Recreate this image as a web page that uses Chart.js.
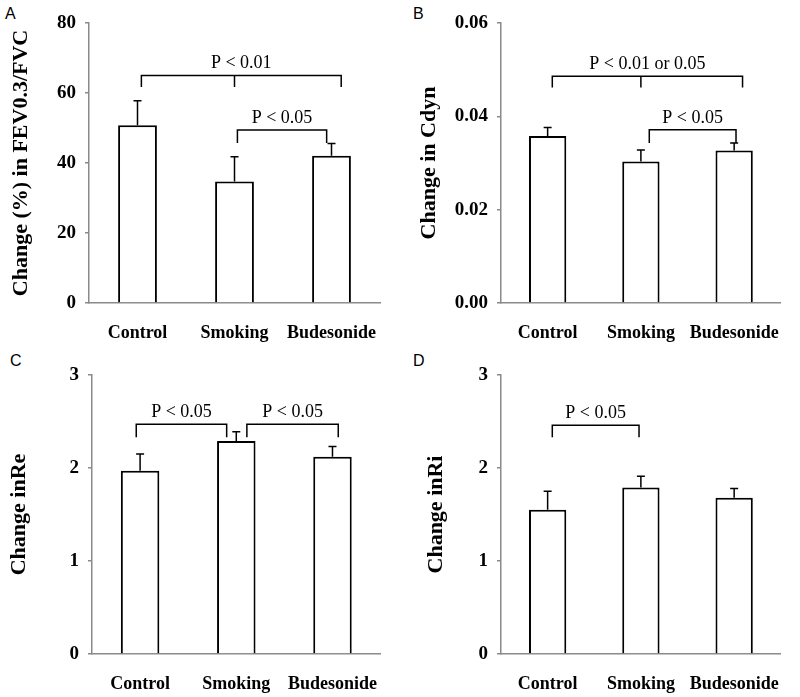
<!DOCTYPE html>
<html>
<head>
<meta charset="utf-8">
<script src="https://cdn.jsdelivr.net/npm/chart.js@4.4.0/dist/chart.umd.min.js"></script>
<style>
  body { margin: 0; background: #fff; }
  #wrap { position: relative; width: 800px; height: 697px; }
  canvas { position: absolute; }
  .tag { position: absolute; font-family: "Liberation Sans", Arial, sans-serif; font-size: 16px; color: #000; }
</style>
</head>
<body>
<div id="wrap">
  <div class="tag" style="left:5px;top:5px">A</div>
  <div class="tag" style="left:413px;top:5px">B</div>
  <div class="tag" style="left:10px;top:352px">C</div>
  <div class="tag" style="left:413px;top:352px">D</div>
  <canvas id="chartA" width="400" height="345" style="left:0;top:0"></canvas>
  <canvas id="chartB" width="400" height="345" style="left:400px;top:0"></canvas>
  <canvas id="chartC" width="400" height="352" style="left:0;top:345px"></canvas>
  <canvas id="chartD" width="400" height="352" style="left:400px;top:345px"></canvas>
</div>
<script>
// Grupos
const categories = ['Control', 'Smoking', 'Budesonide'];

// Panel A: FEV0.3/FVC
const fevMeans = [50.8, 34.7, 42.1];
const fevErrors = [7.0, 7.1, 3.5];
// Panel B: Cdyn
const cdynMeans = [0.0358, 0.0303, 0.0327];
const cdynErrors = [0.0018, 0.0025, 0.0016];
// Panel C: Re
const reMeans = [1.97, 2.29, 2.12];
const reErrors = [0.18, 0.10, 0.11];
// Panel D: Ri
const riMeans = [1.55, 1.79, 1.68];
const riErrors = [0.20, 0.12, 0.10];

// Ejes (max, paso)
const fevAxis = [80, 20];
const cdynAxis = [0.06, 0.02];
const reAxis = [3, 1];
const riAxis = [3, 1];

// Corchetes de significancia (posicion en indices de categoria y valores del eje)
const fevBrackets = [
    { from: 0.04, to: 2.1, mid: 1, level: 65, drop: 61.7, label: 'P < 0.01' },
    { from: 1.03, to: 1.95, level: 49.4, drop: 45.7, label: 'P < 0.05' }
];
const cdynBrackets = [
    { from: 0.05, to: 2.09, mid: 1, level: 0.0486, drop: 0.0462, label: 'P < 0.01 or 0.05' },
    { from: 1.09, to: 2.02, level: 0.0371, drop: 0.0343, label: 'P < 0.05' }
];
const reBrackets = [
    { from: -0.04, to: 0.9, level: 2.47, drop: 2.33, label: 'P < 0.05' },
    { from: 1.11, to: 2.06, level: 2.47, drop: 2.33, label: 'P < 0.05' }
];
const riBrackets = [
    { from: 0.05, to: 0.98, level: 2.46, drop: 2.33, label: 'P < 0.05' }
];

const serif = '"Liberation Serif", "Times New Roman", serif';
const axisGrey = '#8a8a8a';

// Plugin: barras de error y corchetes
const marcasPlugin = {
    id: 'marcas',
    afterDatasetsDraw(chart, args, opts) {
        const ctx = chart.ctx;
        const xs = chart.scales.x;
        const ys = chart.scales.y;
        ctx.save();
        ctx.strokeStyle = '#000';
        ctx.lineWidth = 1.5;

        // Barras de error (solo hacia arriba)
        opts.means.forEach((m, i) => {
            const x = xs.getPixelForValue(i);
            const y0 = ys.getPixelForValue(m);
            const y1 = ys.getPixelForValue(m + opts.errors[i]);
            ctx.beginPath();
            ctx.moveTo(x, y0);
            ctx.lineTo(x, y1);
            ctx.moveTo(x - 4, y1);
            ctx.lineTo(x + 4, y1);
            ctx.stroke();
        });

        // Corchetes
        ctx.fillStyle = '#000';
        ctx.font = '18px ' + serif;
        ctx.textAlign = 'center';
        ctx.textBaseline = 'middle';
        opts.brackets.forEach(b => {
            const x1 = xs.getPixelForValue(b.from);
            const x2 = xs.getPixelForValue(b.to);
            const yl = ys.getPixelForValue(b.level);
            const yd = ys.getPixelForValue(b.drop);
            ctx.beginPath();
            ctx.moveTo(x1, yd);
            ctx.lineTo(x1, yl);
            ctx.lineTo(x2, yl);
            ctx.lineTo(x2, yd);
            if (b.mid !== undefined) {
                const xm = xs.getPixelForValue(b.mid);
                ctx.moveTo(xm, yl);
                ctx.lineTo(xm, yd);
            }
            ctx.stroke();
            ctx.fillText(b.label, (x1 + x2) / 2, yl - 12);
        });
        ctx.restore();
    }
};

function crearPanel(id, means, errors, axis, brackets, titulo, cfg) {
    const ctx = document.getElementById(id);
    new Chart(ctx, {
        type: 'bar',
        data: {
            labels: categories,
            datasets: [{
                data: means,
                backgroundColor: '#fff',
                borderColor: '#000',
                borderWidth: 2,
                borderSkipped: 'bottom',
                barPercentage: 0.4,
                categoryPercentage: 1
            }]
        },
        options: {
            responsive: false,
            animation: false,
            devicePixelRatio: 1,
            layout: { padding: { top: cfg.top, right: cfg.right, left: 0, bottom: 0 } },
            plugins: {
                legend: { display: false },
                tooltip: { enabled: false },
                marcas: { means: means, errors: errors, brackets: brackets }
            },
            scales: {
                x: {
                    grid: { display: false, drawTicks: false },
                    border: { display: true, color: axisGrey, width: 1.5 },
                    ticks: { color: '#000', padding: 20, font: { family: serif, size: 18, weight: 'bold' } },
                    afterFit: s => { s.height = cfg.xh; }
                },
                y: {
                    min: 0,
                    max: axis[0],
                    ticks: {
                        stepSize: axis[1],
                        color: '#000',
                        padding: 9,
                        font: { family: serif, size: 19, weight: 'bold' },
                        callback: v => cfg.dec ? v.toFixed(cfg.dec) : v
                    },
                    grid: { drawOnChartArea: false, drawTicks: true, tickLength: 4, color: axisGrey, lineWidth: 1.5 },
                    border: { display: true, color: axisGrey, width: 1.5 },
                    title: {
                        display: true,
                        text: titulo,
                        color: '#000',
                        padding: { top: cfg.tp, bottom: 0 },
                        font: { family: serif, size: 22, weight: 'bold' }
                    },
                    afterFit: s => { s.width = cfg.yw; }
                }
            }
        },
        plugins: [marcasPlugin]
    });
}

crearPanel('chartA', fevMeans, fevErrors, fevAxis, fevBrackets, 'Change (%) in FEV0.3/FVC',
    { top: 23, right: 20, xh: 42, yw: 89, tp: 8 });
crearPanel('chartB', cdynMeans, cdynErrors, cdynAxis, cdynBrackets, 'Change in Cdyn',
    { top: 23, right: 8, xh: 42, yw: 101, tp: 16, dec: 2 });
crearPanel('chartC', reMeans, reErrors, reAxis, reBrackets, 'Change inRe',
    { top: 30, right: 18, xh: 43, yw: 92, tp: 6 });
crearPanel('chartD', riMeans, riErrors, riAxis, riBrackets, 'Change inRi',
    { top: 30, right: 8, xh: 43, yw: 101, tp: 23 });
</script>
</body>
</html>
